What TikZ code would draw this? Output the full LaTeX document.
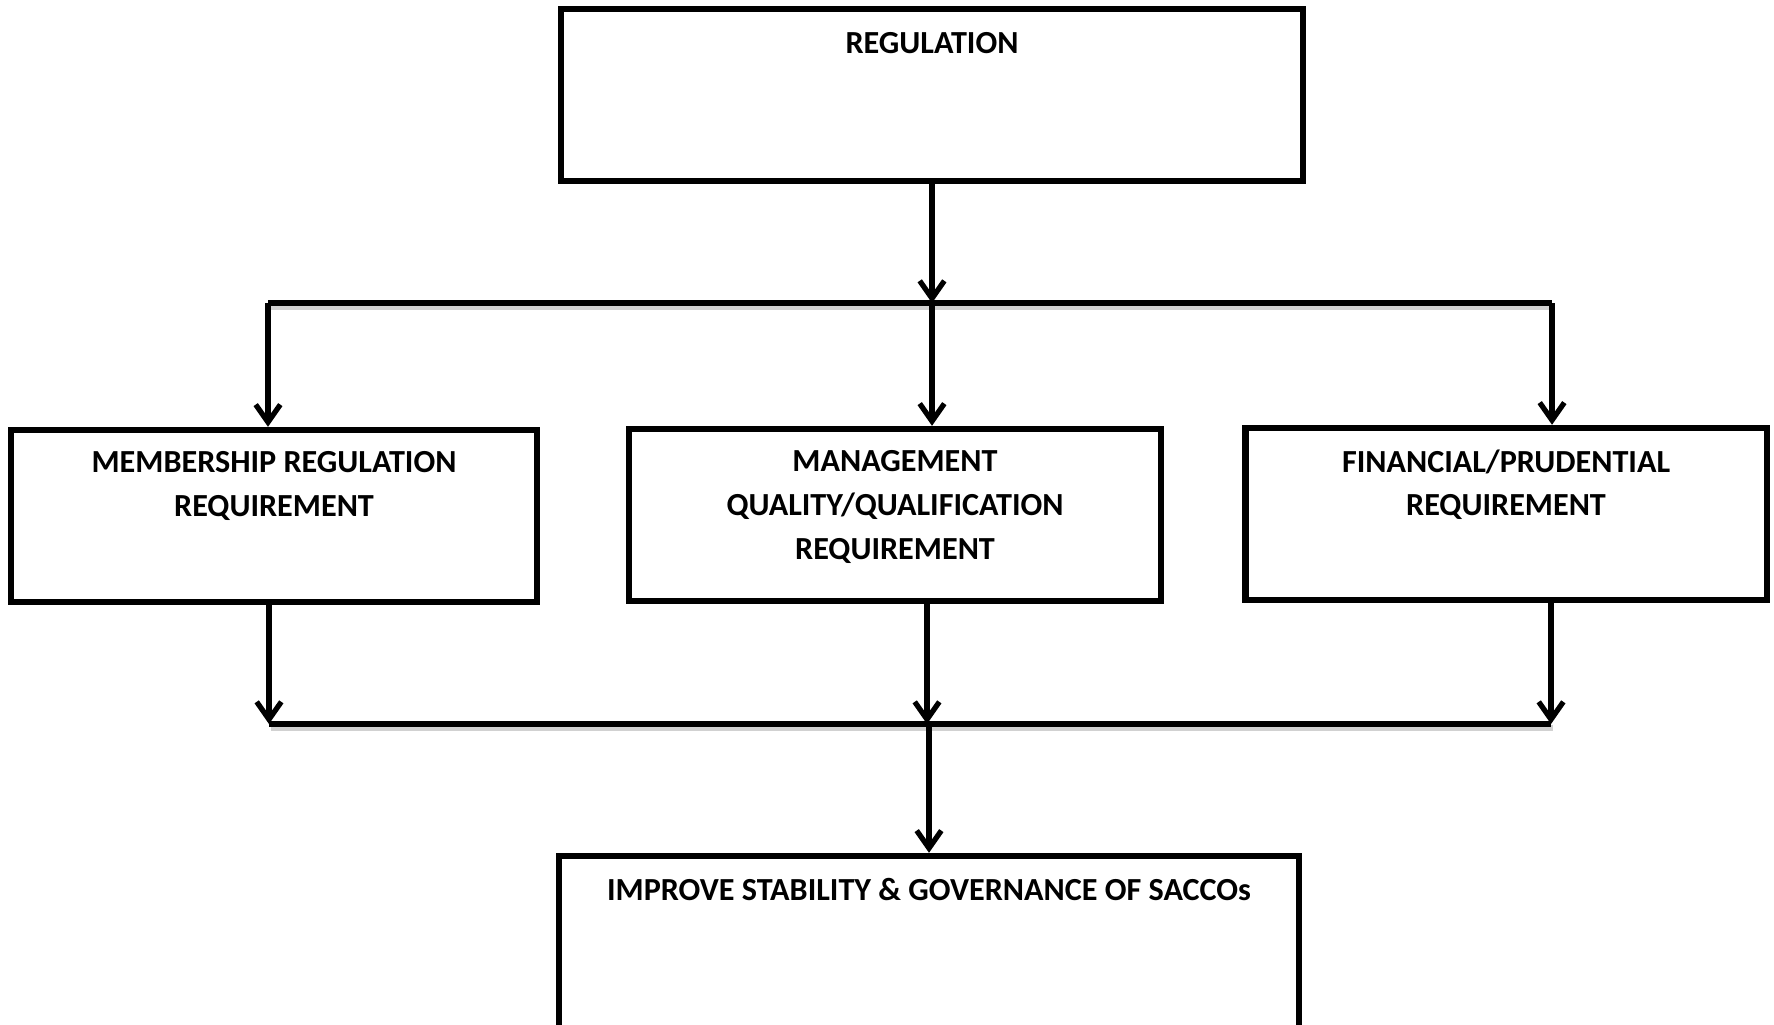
\documentclass[tikz,border=0pt]{standalone}
\usepackage{fontspec}
\setmainfont{Carlito}
\usetikzlibrary{arrows.meta, positioning, calc}

\begin{document}
\begin{tikzpicture}[x=0.01cm, y=-0.01cm,
    box/.style={draw, rectangle, line width=1.8pt, inner sep=0pt},
    boxtext/.style={font=\bfseries\fontsize{9.15}{12.4}\selectfont, align=center, inner sep=0pt, anchor=north},
    flow/.style={line width=1.5pt, -{Straight Barb[length=5pt,width=7pt]}},
    busline/.style={line width=1.5pt, preaction={draw=black!18, line width=1.8pt, transform canvas={xshift=0.6pt, yshift=-1.1pt}}}]
    \useasboundingbox (0,0) rectangle (1774,1024);

    % --- Boxes ---
    \node[box, minimum width=7.42cm, minimum height=1.72cm] (reg) at (932,95) {};
    \node[box, minimum width=5.26cm, minimum height=1.72cm] (mem) at (274,516) {};
    \node[box, minimum width=5.32cm, minimum height=1.72cm] (mgt) at (895,515) {};
    \node[box, minimum width=5.21cm, minimum height=1.72cm] (fin) at (1506,514) {};
    \node[box, minimum width=7.40cm, minimum height=2.00cm] (imp) at (929,956) {};

    % --- Box texts ---
    \node[boxtext] (regtxt) at (932,32) {REGULATION};
    \node[boxtext] (memtxt) at (274,451) {MEMBERSHIP REGULATION\\REQUIREMENT};
    \node[boxtext] (mgttxt) at (895,450) {MANAGEMENT\\QUALITY/QUALIFICATION\\REQUIREMENT};
    \node[boxtext] (fintxt) at (1506,449) {FINANCIAL/PRUDENTIAL\\REQUIREMENT};
    \node[boxtext] (imptxt) at (929,878) {IMPROVE STABILITY \& GOVERNANCE OF SACCOs};

    % --- Bus coordinates ---
    \coordinate (topl) at (268,303);
    \coordinate (topm) at (932,303);
    \coordinate (topr) at (1552,303);
    \coordinate (botl) at (269,724);
    \coordinate (botm) at (927,724);
    \coordinate (botr) at (1551,724);

    % --- Top split ---
    \draw[busline] (topl) -- (topr);
    \draw[flow] (reg.south) -- (topm);
    \draw[flow] (topl) -- (topl |- mem.north);
    \draw[flow] (topm) -- (topm |- mgt.north);
    \draw[flow] (topr) -- (topr |- fin.north);

    % --- Bottom merge ---
    \draw[busline] (botl) -- (botr);
    \draw[flow] (botl |- mem.south) -- (botl);
    \draw[flow] (botm |- mgt.south) -- (botm);
    \draw[flow] (botr |- fin.south) -- (botr);
    \draw[flow] (botm -| imp.north) -- (imp.north);
\end{tikzpicture}
\end{document}
